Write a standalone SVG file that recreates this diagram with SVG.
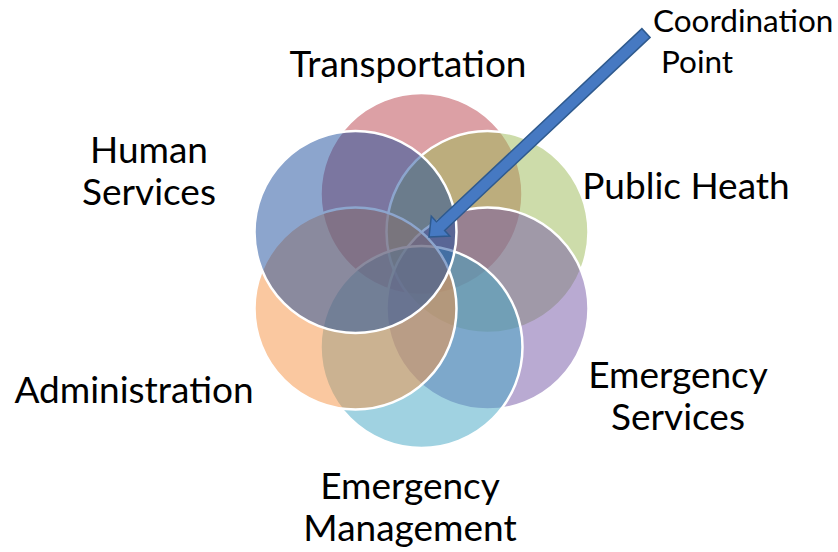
<svg xmlns="http://www.w3.org/2000/svg" width="838" height="552" viewBox="0 0 838 552">
  <style>
    .c { stroke: #ffffff; stroke-width: 2.5; fill-opacity: 0.5; }
    .lbl { font-family: Lato, "Liberation Sans", sans-serif; font-size: 37px; fill: #000000; text-anchor: middle; }
    .small { font-family: Lato, "Liberation Sans", sans-serif; font-size: 31.5px; fill: #000000; }
    .arrow { fill: #4679C2; stroke: #2F5A8E; stroke-width: 1.5; stroke-linejoin: miter; }
  </style>
  <rect width="838" height="552" fill="#ffffff"/>
  <g id="transportation">
    <circle class="c" cx="421.5" cy="194" r="101" fill="#BA414B"/>
    <text class="lbl" x="408" y="77">Transportation</text>
  </g>
  <g id="public-health">
    <circle class="c" cx="487.5" cy="232" r="101" fill="#9BB955"/>
    <text class="lbl" x="686" y="199">Public Heath</text>
  </g>
  <g id="emergency-services">
    <circle class="c" cx="487.5" cy="308.5" r="101" fill="#7355A5"/>
    <text class="lbl" x="678" y="388">Emergency</text>
    <text class="lbl" x="678" y="430">Services</text>
  </g>
  <g id="emergency-management">
    <circle class="c" cx="421.5" cy="347" r="101" fill="#41A5C3"/>
    <text class="lbl" x="410" y="499">Emergency</text>
    <text class="lbl" x="410" y="541">Management</text>
  </g>
  <g id="administration">
    <circle class="c" cx="355.5" cy="308.5" r="101" fill="#F59141"/>
    <text class="lbl" x="134" y="403">Administration</text>
  </g>
  <g id="human-services">
    <circle class="c" cx="355.5" cy="232" r="101" fill="#194B9B"/>
    <text class="lbl" x="149" y="163">Human</text>
    <text class="lbl" x="149" y="205">Services</text>
  </g>
  <g id="coordination-point">
    <text class="small" x="653" y="32">Coordination</text>
    <text class="small" x="661" y="73">Point</text>
  </g>
  <g id="connectors">
    <polygon class="arrow" transform="translate(646,33) rotate(136.77)" points="0,-6 282,-6 282,-13.5 297.8,0 282,13.5 282,6 0,6"/>
  </g>
</svg>
